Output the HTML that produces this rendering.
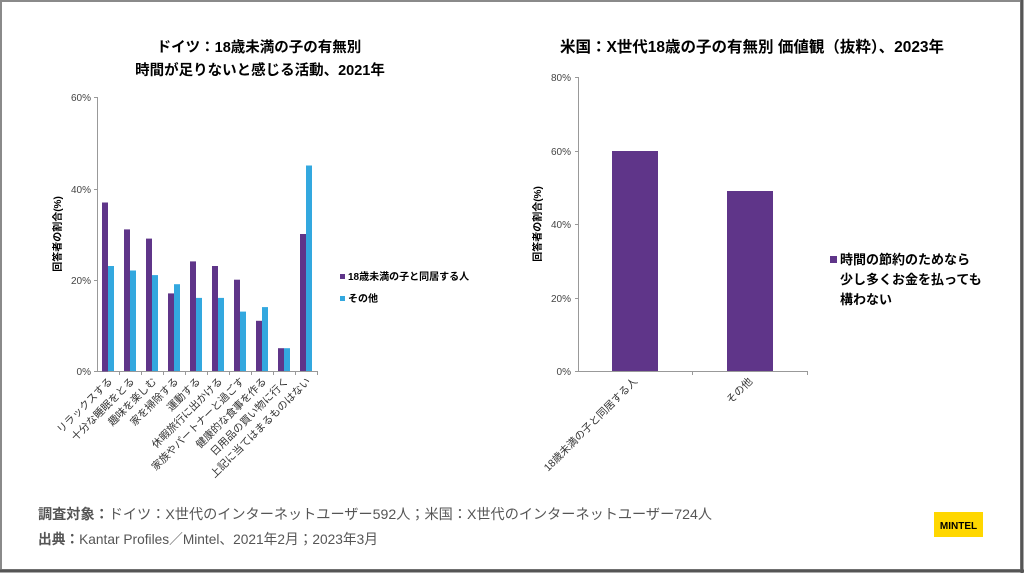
<!DOCTYPE html>
<html><head><meta charset="utf-8"><style>
body{margin:0;background:#fff;}
svg text{font-family:"Liberation Sans","Noto Sans CJK JP",sans-serif;}
</style></head><body>
<svg width="1024" height="573" xmlns="http://www.w3.org/2000/svg">
<rect x="0" y="0" width="1024" height="573" fill="#fff"/>
<rect x="1" y="1" width="1020" height="569" fill="none" stroke="#8a8a8a" stroke-width="2"/>
<line x1="0" y1="571" x2="1024" y2="571" stroke="#555" stroke-width="3"/>
<line x1="1022" y1="0" x2="1022" y2="573" stroke="#555" stroke-width="3"/>

<text x="259" y="52" font-size="14.5" font-weight="bold" text-anchor="middle" fill="#000">ドイツ：18歳未満の子の有無別</text>
<text x="260" y="75" font-size="14.5" font-weight="bold" text-anchor="middle" fill="#000">時間が足りないと感じる活動、2021年</text>

<g stroke="#999" stroke-width="1">
<line x1="97.5" y1="97" x2="97.5" y2="372"/>
<line x1="97" y1="371.5" x2="317" y2="371.5"/>
<line x1="94" y1="97.5" x2="97" y2="97.5"/>
<line x1="94" y1="189.5" x2="97" y2="189.5"/>
<line x1="94" y1="280.5" x2="97" y2="280.5"/>
<line x1="94" y1="371.5" x2="97" y2="371.5"/>
<line x1="119.5" y1="371" x2="119.5" y2="375"/><line x1="141.5" y1="371" x2="141.5" y2="375"/>
<line x1="163.5" y1="371" x2="163.5" y2="375"/><line x1="185.5" y1="371" x2="185.5" y2="375"/>
<line x1="207.5" y1="371" x2="207.5" y2="375"/><line x1="229.5" y1="371" x2="229.5" y2="375"/>
<line x1="251.5" y1="371" x2="251.5" y2="375"/><line x1="273.5" y1="371" x2="273.5" y2="375"/>
<line x1="295.5" y1="371" x2="295.5" y2="375"/><line x1="317.5" y1="371" x2="317.5" y2="375"/>
</g>
<g font-size="10" fill="#444" text-anchor="end">
<text x="91" y="101">60%</text><text x="91" y="193">40%</text><text x="91" y="284">20%</text><text x="91" y="375">0%</text>
</g>
<text transform="translate(61,234) rotate(-90)" font-size="10" font-weight="bold" text-anchor="middle" fill="#000">回答者の割合(%)</text>

<g fill="#5f3589">
<rect x="102" y="202.5" width="6" height="169"/>
<rect x="124" y="229.4" width="6" height="141.6"/>
<rect x="146" y="238.6" width="6" height="132.4"/>
<rect x="168" y="293.4" width="6" height="77.6"/>
<rect x="190" y="261.4" width="6" height="109.6"/>
<rect x="212" y="266" width="6" height="105"/>
<rect x="234" y="279.7" width="6" height="91.3"/>
<rect x="256" y="320.8" width="6" height="50.2"/>
<rect x="278" y="348.2" width="6" height="22.8"/>
<rect x="300" y="234" width="6" height="137"/>
</g>
<g fill="#33a8df">
<rect x="108" y="266" width="6" height="105"/>
<rect x="130" y="270.5" width="6" height="100.5"/>
<rect x="152" y="275.1" width="6" height="95.9"/>
<rect x="174" y="284.2" width="6" height="86.8"/>
<rect x="196" y="297.9" width="6" height="73.1"/>
<rect x="218" y="297.9" width="6" height="73.1"/>
<rect x="240" y="311.6" width="6" height="59.4"/>
<rect x="262" y="307.1" width="6" height="63.9"/>
<rect x="284" y="348.2" width="6" height="22.8"/>
<rect x="306" y="165.5" width="6" height="205.5"/>
</g>
<g font-size="10.5" fill="#333" text-anchor="end">
<text transform="translate(113,382) rotate(-45)">リラックスする</text>
<text transform="translate(135,382) rotate(-45)">十分な睡眠をとる</text>
<text transform="translate(157,382) rotate(-45)">趣味を楽しむ</text>
<text transform="translate(179,382) rotate(-45)">家を掃除する</text>
<text transform="translate(201,382) rotate(-45)">運動する</text>
<text transform="translate(223,382) rotate(-45)">休暇旅行に出かける</text>
<text transform="translate(245,382) rotate(-45)">家族やパートナーと過ごす</text>
<text transform="translate(267,382) rotate(-45)">健康的な食事を作る</text>
<text transform="translate(289,382) rotate(-45)">日用品の買い物に行く</text>
<text transform="translate(311,382) rotate(-45)">上記に当てはまるものはない</text>
</g>
<rect x="340" y="274" width="5" height="5" fill="#5f3589"/>
<text x="348" y="280" font-size="10" font-weight="bold" fill="#000">18歳未満の子と同居する人</text>
<rect x="340" y="296" width="5" height="5" fill="#33a8df"/>
<text x="348" y="302" font-size="10" font-weight="bold" fill="#000">その他</text>

<text x="752" y="52" font-size="15.5" font-weight="bold" text-anchor="middle" fill="#000">米国：X世代18歳の子の有無別 価値観（抜粋）、2023年</text>
<g stroke="#999" stroke-width="1">
<line x1="578.5" y1="77" x2="578.5" y2="372"/>
<line x1="578" y1="371.5" x2="807" y2="371.5"/>
<line x1="575" y1="77.5" x2="578" y2="77.5"/>
<line x1="575" y1="151.5" x2="578" y2="151.5"/>
<line x1="575" y1="224.5" x2="578" y2="224.5"/>
<line x1="575" y1="298.5" x2="578" y2="298.5"/>
<line x1="575" y1="371.5" x2="578" y2="371.5"/>
<line x1="692.5" y1="371" x2="692.5" y2="375"/>
<line x1="807.5" y1="371" x2="807.5" y2="375"/>
</g>
<g font-size="10" fill="#444" text-anchor="end">
<text x="571" y="81">80%</text><text x="571" y="155">60%</text><text x="571" y="228">40%</text><text x="571" y="302">20%</text><text x="571" y="375">0%</text>
</g>
<text transform="translate(541,224) rotate(-90)" font-size="10" font-weight="bold" text-anchor="middle" fill="#000">回答者の割合(%)</text>
<rect x="612" y="151" width="46" height="220" fill="#5f3589"/>
<rect x="727" y="191" width="46" height="180" fill="#5f3589"/>
<g font-size="10.5" fill="#333" text-anchor="end">
<text transform="translate(638,382) rotate(-45)">18歳未満の子と同居する人</text>
<text transform="translate(753,382) rotate(-45)">その他</text>
</g>
<rect x="830" y="256" width="7" height="7" fill="#5f3589"/>
<g font-size="13" font-weight="bold" fill="#000">
<text x="840" y="264">時間の節約のためなら</text>
<text x="840" y="284">少し多くお金を払っても</text>
<text x="840" y="304">構わない</text>
</g>

<text x="38" y="519" font-size="14" fill="#555" textLength="674" lengthAdjust="spacingAndGlyphs"><tspan font-weight="bold">調査対象：</tspan>ドイツ：X世代のインターネットユーザー592人；米国：X世代のインターネットユーザー724人</text>
<text x="38" y="544" font-size="14" fill="#555" textLength="340" lengthAdjust="spacingAndGlyphs"><tspan font-weight="bold">出典：</tspan>Kantar Profiles／Mintel、2021年2月；2023年3月</text>
<rect x="934" y="512" width="49" height="25" fill="#ffd700"/>
<text x="958.5" y="529" font-size="10" font-weight="bold" text-anchor="middle" fill="#000">MINTEL</text>
</svg>
</body></html>
